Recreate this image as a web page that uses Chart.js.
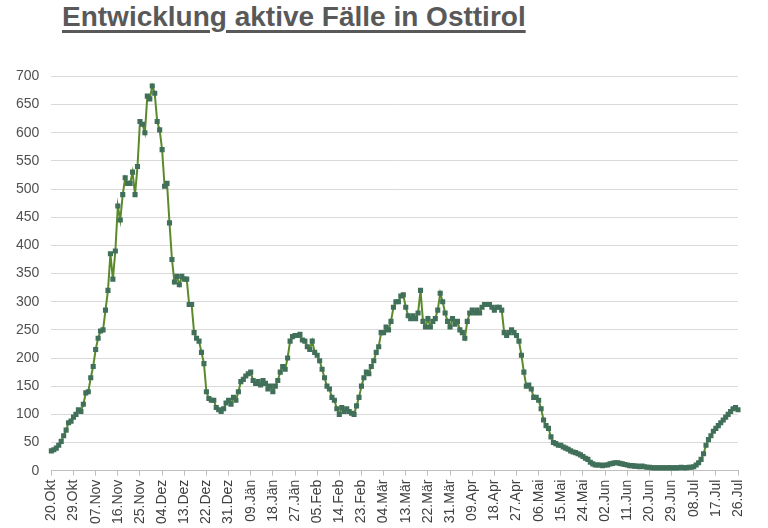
<!DOCTYPE html><html><head><meta charset="utf-8">
<script src="https://cdn.jsdelivr.net/npm/chart.js@4"></script>
<style>body{margin:0;background:#fff;width:768px;height:528px;overflow:hidden;font-family:Arial,"Liberation Sans",sans-serif}
#t{position:absolute;left:62px;top:1px;font-size:28px;font-weight:bold;color:#595959;text-decoration:underline;text-decoration-thickness:3px;text-underline-offset:4px}
#w{position:absolute;left:0;top:56px;width:760px;height:472px}</style></head><body>
<div id="t">Entwicklung aktive Fälle in Osttirol</div>
<div id="w"><canvas id="c"></canvas></div>
<script>
const tickLabels=["20.Okt","29.Okt","07.Nov","16.Nov","25.Nov","04.Dez","13.Dez","22.Dez","31.Dez","09.Jän","18.Jän","27.Jän","05.Feb","14.Feb","23.Feb","04.Mär","13.Mär","22.Mär","31.Mär","09.Apr","18.Apr","27.Apr","06.Mai","15.Mai","24.Mai","02.Jun","11.Jun","20.Jun","29.Jun","08.Jul","17.Jul","26.Jul"];
const activeCases=[35,37,40,45,52,62,72,85,88,
95,100,108,105,118,138,140,165,185,
215,235,248,250,285,320,385,340,390,
470,445,490,520,510,510,530,490,540,
620,615,600,665,660,683,670,620,605,
570,505,510,440,375,335,345,330,345,
340,340,295,295,245,235,230,210,190,
140,128,125,125,112,108,105,110,120,
125,118,130,125,140,158,162,168,172,
175,160,155,158,152,160,155,145,150,
140,150,160,175,185,180,200,230,238,
240,240,242,232,230,220,215,230,210,
205,195,180,165,150,145,130,125,110,
100,112,105,110,105,102,100,115,130,
150,165,175,172,185,195,210,220,245,
245,255,250,265,290,300,300,310,312,
290,275,270,275,270,280,320,265,255,
270,255,265,270,285,315,300,280,265,
255,270,260,265,250,245,235,265,280,
285,280,285,280,290,295,295,295,290,
285,290,290,285,245,240,245,250,245,
240,230,205,175,150,152,145,130,130,
125,110,90,80,75,60,50,48,45,
45,42,40,38,35,33,32,30,28,
25,22,20,15,12,10,10,10,9,
10,10,12,13,14,14,13,12,11,
10,9,9,8,8,7,8,7,6,
6,5,5,5,5,5,5,5,5,
5,5,5,5,6,5,5,6,6,
7,10,14,20,30,45,55,62,70,
75,80,85,90,95,100,105,110,112,
108];
const labels=activeCases.map((v,i)=>i%9===0?tickLabels[i/9]:"");
new Chart(document.getElementById('c'),{type:'line',
data:{labels:labels,datasets:[{data:activeCases,borderColor:'#5b8a2b',borderWidth:2,pointStyle:'rect',pointRadius:2.2,pointBackgroundColor:'#41705a',pointBorderColor:'#41705a',tension:0}]},
options:{animation:false,responsive:true,maintainAspectRatio:false,
layout:{padding:{top:13,right:22,bottom:0,left:4}},
plugins:{legend:{display:false},tooltip:{enabled:false}},
scales:{y:{min:0,max:700,ticks:{stepSize:50,padding:12,color:'#505050',font:{size:14,family:'Arial'}},grid:{color:'#d9d9d9',drawTicks:false},border:{display:false}},
x:{grid:{display:true,drawOnChartArea:false,color:ctx=>ctx.index%9===0?'#bfbfbf':'rgba(0,0,0,0)',tickLength:5},border:{color:'#bfbfbf'},
ticks:{autoSkip:false,maxRotation:90,minRotation:90,padding:4,color:'#404040',font:{size:14,family:'Arial'},callback:(v,i)=>labels[i]}}}}});
</script></body></html>
